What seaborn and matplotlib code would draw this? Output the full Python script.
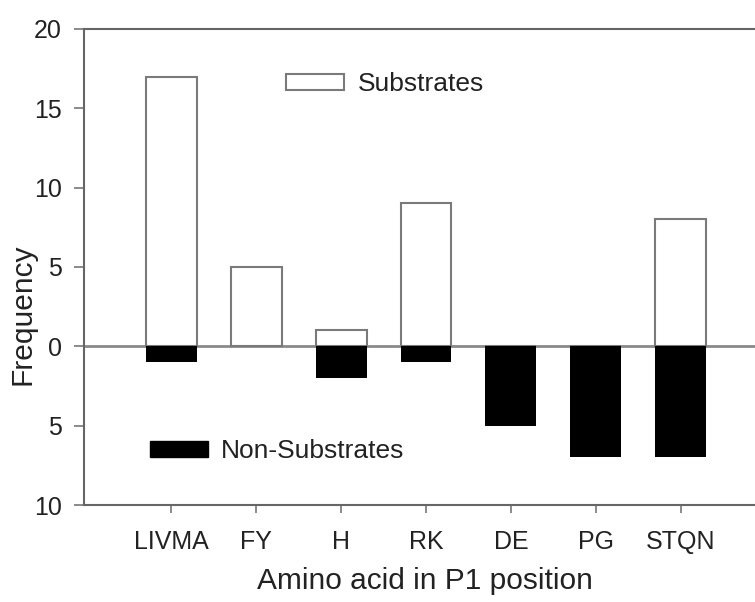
import seaborn as sns
import matplotlib.pyplot as plt
import pandas as pd
from matplotlib.patches import Patch

categories = ['LIVMA', 'FY', 'H', 'RK', 'DE', 'PG', 'STQN']
substrates = [17, 5, 1, 9, 0, 0, 8]
non_substrates = [1, 0, 2, 1, 5, 7, 7]
ytick_values = [-10, -5, 0, 5, 10, 15, 20]
ytick_labels = ['10', '5', '0', '5', '10', '15', '20']

df = pd.DataFrame({'aa': categories,
                   'sub': substrates,
                   'non': [-v for v in non_substrates]})

sns.set_style('ticks')
plt.rcParams['font.family'] = ['Liberation Sans', 'DejaVu Sans']
plt.rcParams['text.color'] = '#222222'

fig = plt.figure(figsize=(7.55, 6.02), dpi=100)
ax = fig.add_axes([0.1113, 0.161, 0.8953, 0.791])

sns.barplot(data=df, x='aa', y='sub', color='white', edgecolor='#7a7a7a',
            linewidth=1.5, width=0.6, saturation=1, ax=ax)
sns.barplot(data=df, x='aa', y='non', color='black', edgecolor='black',
            linewidth=0, width=0.6, saturation=1, ax=ax)

ax.axhline(0, color='#8a8a8a', lw=2, zorder=0.5)

ax.set_xlim(-1.024, 6.93)
ax.set_ylim(-10, 20)
ax.set_yticks(ytick_values)
ax.set_yticklabels(ytick_labels)

for side in ['left', 'bottom', 'top']:
    ax.spines[side].set_color('#666666')
    ax.spines[side].set_linewidth(1.5)
ax.spines['right'].set_visible(False)

ax.tick_params(axis='y', labelsize=18, length=7, width=1.2, color='#777777',
               pad=9, labelcolor='#222222')
ax.tick_params(axis='x', labelsize=18, length=6, width=1.2, color='#777777',
               pad=12, labelcolor='#222222')

ax.set_xlabel('Amino acid in P1 position', fontsize=21.5, color='#222222')
ax.set_ylabel('Frequency', fontsize=21.5, color='#222222')
ax.xaxis.set_label_coords(0.504, -0.13)
ax.yaxis.set_label_coords(-0.07, 0.40)

leg1 = ax.legend(handles=[Patch(facecolor='white', edgecolor='#7a7a7a', lw=1.5)],
                 labels=['Substrates'], loc='center left',
                 bbox_to_anchor=(0.299, 0.884), frameon=False, fontsize=19,
                 handlelength=2.2, handleheight=0.53, handletextpad=0.5,
                 borderpad=0, borderaxespad=0)
ax.add_artist(leg1)
ax.legend(handles=[Patch(facecolor='black', edgecolor='black')],
          labels=['Non-Substrates'], loc='center left',
          bbox_to_anchor=(0.0976, 0.113), frameon=False, fontsize=19,
          handlelength=2.2, handleheight=0.53, handletextpad=0.5,
          borderpad=0, borderaxespad=0)

fig.savefig('out.png', dpi=100)
